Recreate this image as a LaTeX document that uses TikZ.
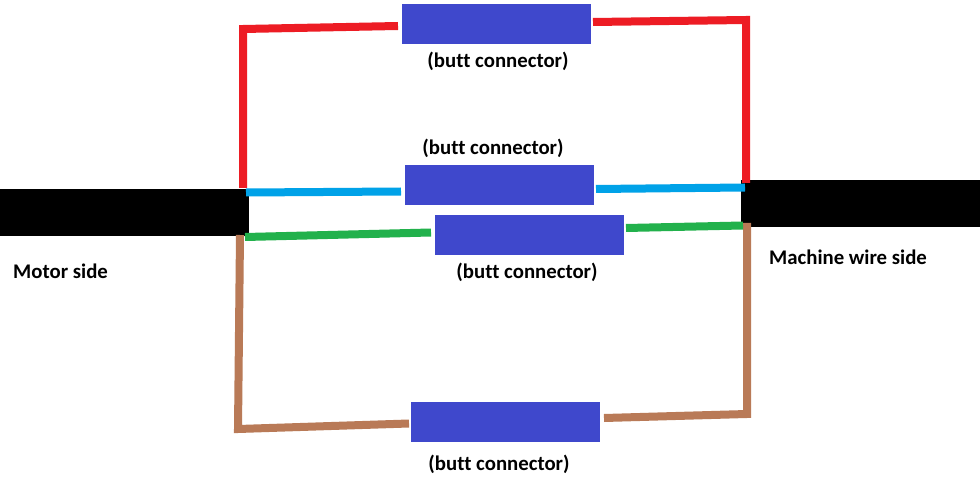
\documentclass[tikz,border=0pt]{standalone}
\usepackage{fontspec}
\setmainfont[Ligatures=NoCommon]{Carlito}
\definecolor{cblue}{RGB}{63,72,204}
\definecolor{cred}{RGB}{237,28,36}
\definecolor{ccyan}{RGB}{0,162,232}
\definecolor{cgreen}{RGB}{34,177,76}
\definecolor{cbrown}{RGB}{185,122,87}
\tikzset{
  x=1pt,y=-1pt,
  conn/.style={fill=cblue,draw=none,minimum width=189pt,minimum height=40pt,inner sep=0pt},
  cable/.style={fill=black,draw=none,inner sep=0pt},
  wire/.style={line width=8pt,line join=miter},
  lab/.style={font=\fontsize{20.8}{22}\selectfont\bfseries,inner sep=0pt,anchor=center}
}
\begin{document}
\begin{tikzpicture}
\useasboundingbox (0,0) rectangle (980,481);
\fill[white] (0,0) rectangle (980,481);
\node[conn] (c1) at (496.5,24) {};
\node[conn] (c2) at (499.5,185) {};
\node[conn] (c3) at (529.5,235) {};
\node[conn] (c4) at (505.5,422) {};
\node[cable,minimum width=249pt,minimum height=47pt] (m) at (124.5,212.5) {};
\node[cable,minimum width=239pt,minimum height=47pt] (w) at (860.5,203.5) {};
\coordinate (r1) at (243,188);\coordinate (r2) at (243,29);\coordinate (r3) at (398,26);
\coordinate (r4) at (593,22);\coordinate (r5) at (746,20);\coordinate (r6) at (746,183);
\coordinate (b1) at (246,192.5);\coordinate (b2) at (401,191.5);\coordinate (b3) at (596,189);\coordinate (b4) at (745,187.5);
\coordinate (g1) at (245,237);\coordinate (g2) at (431,232.5);\coordinate (g3) at (626,228);\coordinate (g4) at (743,225.5);
\coordinate (n1) at (240,235);\coordinate (n2) at (238,429);\coordinate (n3) at (409,423.5);
\coordinate (n4) at (604,418);\coordinate (n5) at (747,414);\coordinate (n6) at (747,223);
\draw[wire,cred] (r1)--(r2)--(r3);
\draw[wire,cred] (r4)--(r5)--(r6);
\draw[wire,ccyan] (b1)--(b2);
\draw[wire,ccyan] (b3)--(b4);
\draw[wire,cbrown] (n1)--(n2)--(n3);
\draw[wire,cbrown] (n4)--(n5)--(n6);
\draw[wire,cgreen] (g1)--(g2);
\draw[wire,cgreen] (g3)--(g4);
\node[lab] (l1) at (498,61) {(butt connector)};
\node[lab] (l2) at (493,148) {(butt connector)};
\node[lab] (l3) at (527,272) {(butt connector)};
\node[lab] (l4) at (499,464) {(butt connector)};
\node[lab,anchor=west] (l5) at (13,271) {Motor side};
\node[lab,anchor=west] (l6) at (769,257) {Machine wire side};
\end{tikzpicture}
\end{document}
